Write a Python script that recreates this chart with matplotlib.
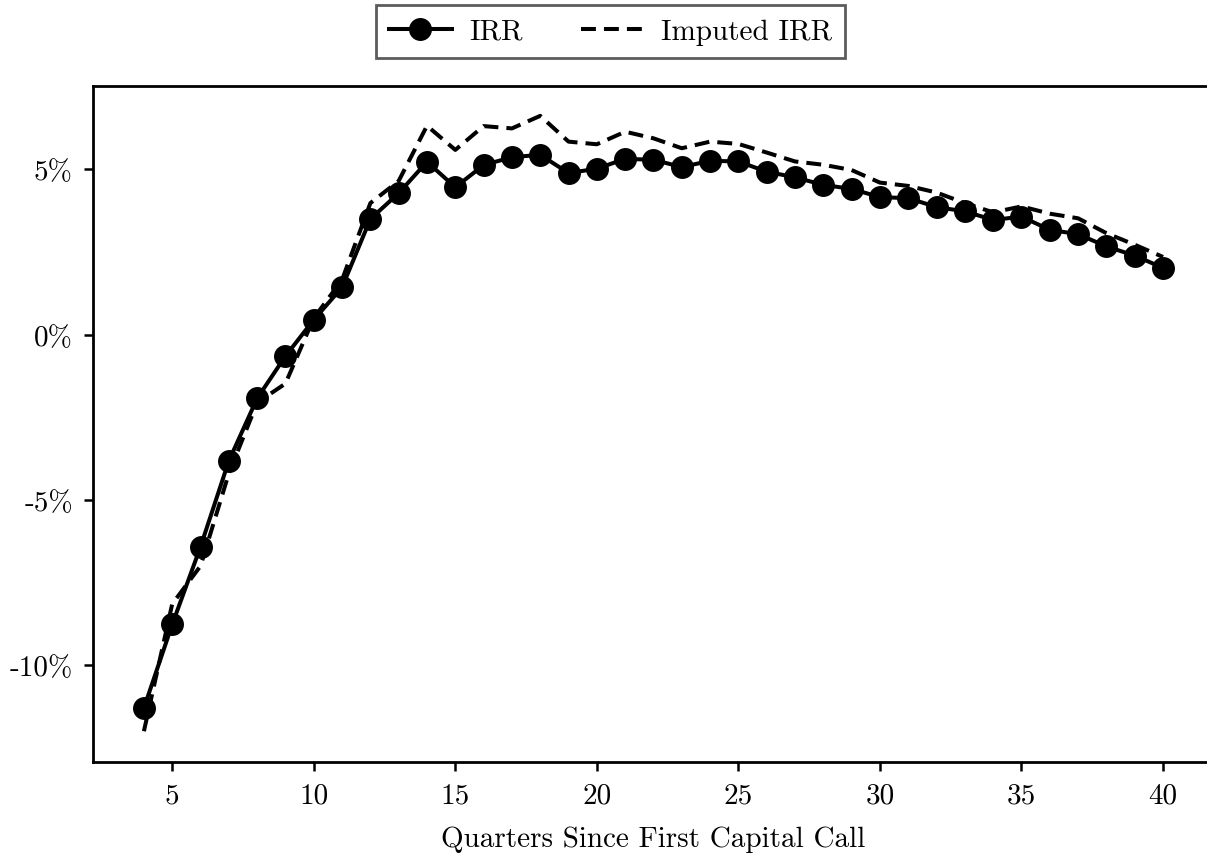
import matplotlib
matplotlib.use('Agg')
from matplotlib import pyplot as plt

plt.rcParams['font.family'] = ['cmr10', 'DejaVu Serif']
plt.rcParams['mathtext.fontset'] = 'cm'
plt.rcParams['axes.unicode_minus'] = False
plt.rcParams['axes.formatter.use_mathtext'] = True

quarters = list(range(4, 41))

# IRR in percent
irr = [-11.3, -8.77, -6.42, -3.82, -1.93, -0.65, 0.45, 1.43, 3.5, 4.28,
       5.23, 4.46, 5.13, 5.37, 5.44, 4.89, 5.02, 5.32, 5.29, 5.07,
       5.26, 5.24, 4.93, 4.76, 4.53, 4.41, 4.16, 4.13, 3.86, 3.73,
       3.47, 3.57, 3.17, 3.04, 2.67, 2.39, 2.02]

imputed_irr = [-12.0, -8.15, -7.0, -4.2, -2.06, -1.48, 0.5, 1.66, 3.98, 4.65,
               6.32, 5.59, 6.31, 6.24, 6.62, 5.84, 5.76, 6.14, 5.94, 5.64,
               5.84, 5.77, 5.51, 5.24, 5.14, 4.98, 4.6, 4.5, 4.3, 3.98,
               3.7, 3.88, 3.66, 3.52, 3.07, 2.72, 2.35]

yticks = [-10, -5, 0, 5]
ytick_labels = ['-10%', '-5%', '0%', '5%']
xticks = [5, 10, 15, 20, 25, 30, 35, 40]

fig = plt.figure(figsize=(12.07, 8.54), dpi=100)
ax = fig.add_axes([0.077, 0.1066, 1.0058 - 0.077, 0.898 - 0.1066])

ax.plot(quarters, irr, color='black', linewidth=2.9, marker='o', markersize=15.5, label='IRR')
ax.plot(quarters, imputed_irr, color='black', linewidth=2.9, linestyle=(0, (3.7, 2.0)),
        label='Imputed IRR')

ax.set_xlim(2.2, 41.8)
ax.set_ylim(-12.93, 7.52)
ax.set_xticks(xticks)
ax.set_xticklabels([str(t) for t in xticks])
ax.set_yticks(yticks)
ax.set_yticklabels(ytick_labels)
ax.tick_params(labelsize=21, length=6.5, width=1.8, pad=8)
for s in ax.spines.values():
    s.set_linewidth(2)

ax.set_xlabel('Quarters Since First Capital Call', fontsize=21, labelpad=12)

leg = fig.legend(loc='upper center', bbox_to_anchor=(0.506, 0.996), ncol=2, fontsize=21,
                 fancybox=False, edgecolor='#333333', handlelength=2.15, handletextpad=0.6,
                 columnspacing=2.0, borderpad=0.45, borderaxespad=0.1)
leg.get_frame().set_linewidth(2)

fig.savefig('out.png', dpi=100)
